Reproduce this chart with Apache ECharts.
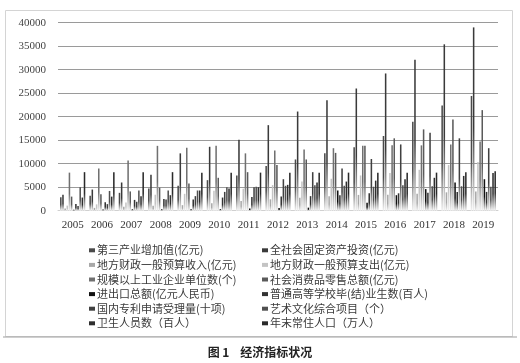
<!DOCTYPE html>
<html><head><meta charset="utf-8">
<script src="https://cdn.jsdelivr.net/npm/echarts@6/dist/echarts.min.js"></script>
<style>html,body{margin:0;padding:0;background:#fff}#c{width:520px;height:363px}</style>
</head><body><div id="c"></div>
<script>
const years = ['2005','2006','2007','2008','2009','2010','2011','2012','2013','2014','2015','2016','2017','2018','2019'];
const yTicks = [0,5000,10000,15000,20000,25000,30000,35000,40000];
const names = ['第三产业增加值(亿元)','全社会固定资产投资(亿元)','地方财政一般预算收入(亿元)','地方财政一般预算支出(亿元)','规模以上工业企业单位数(个)','社会消费品零售总额(亿元)','进出口总额(亿元人民币)','普通高等学校毕(结)业生数(百人)','国内专利申请受理量(十项)','艺术文化综合项目（个）','卫生人员数（百人）','年末常住人口（万人）'];
const s1 = [2840,3200,3800,4750,5300,6500,7500,9500,10900,12200,13500,15900,18900,22400,24400];
const s2 = [3400,4500,6000,7650,12200,13600,15100,18200,21100,23500,26000,29200,32100,35400,39000];
const s3 = [480,600,850,1040,1180,1560,2050,2420,2780,3060,3360,3390,3580,3910,4070];
const s4 = [1080,1350,1760,3400,3590,4260,4680,5450,6220,6800,7500,8010,8700,9710,10350];
const s5 = [8100,9000,10700,13800,13400,13800,12200,12800,13000,13300,13800,13900,13900,14100,14700];
const s6 = [3000,3500,4100,4900,5800,7000,8200,9700,10900,12300,13800,15400,17300,19400,21400];
const s7 = [200,250,300,300,300,330,480,590,650,4300,1700,3300,4600,6000,6700];
const s8 = [1400,1800,2300,2500,2400,2800,2900,3000,3100,3300,3700,3700,3800,4000,4000];
const s9 = [1000,1400,1900,2400,3100,4000,5000,6700,8200,9000,11000,14100,16600,15400,13300];
const s10 = [5000,4200,4300,4300,4300,5000,5100,5300,5400,5300,5100,5400,5200,5200,5100];
const s11 = [2800,3000,3100,3300,4300,4700,5000,5500,6000,6200,6400,6700,7000,7400,8000];
const s12 = [8200,8200,8200,8200,8100,8100,8100,8100,8100,8100,8100,8100,8100,8200,8400];
const allData = [s1,s2,s3,s4,s5,s6,s7,s8,s9,s10,s11,s12];
const colors = ['#4a4a4a','#3a3a3a','#a8a8a8','#c4c4c4','#707070','#5a5a5a','#111111','#333333','#404040','#505050','#2e2e2e','#2a2a2a'];

const chart = echarts.init(document.getElementById('c'), null, {renderer:'canvas'});
const series = allData.map((d,i)=>({
  name: names[i], type:'bar', data:d,
  barGap:'40%', barCategoryGap:'14%',
  itemStyle:{color:new echarts.graphic.LinearGradient(0,0,0,1,[{offset:0,color:colors[i]},{offset:0.55,color:colors[i]},{offset:1,color:'#f2f2f2'}])},
  animation:false
}));
const legendBase = {orient:'vertical', itemWidth:6, itemHeight:4, itemGap:0, icon:'rect',
  textStyle:{fontSize:11, color:'#3a3a3a', fontFamily:'"Noto Sans CJK SC"', lineHeight:14.6, padding:[0,0,0,-3]}, padding:0};
chart.setOption({
  backgroundColor:'#fff',
  animation:false,
  grid:{left:58, right:22, top:22.7, bottom:152.3},
  xAxis:{type:'category', data:years, axisTick:{show:false},
    axisLine:{lineStyle:{color:'#d0d0d0'}},
    axisLabel:{fontSize:11, color:'#333', fontFamily:'"Liberation Serif", serif', margin:9}},
  yAxis:{type:'value', min:yTicks[0], max:yTicks[yTicks.length-1], interval:5000,
    axisLine:{show:false}, axisTick:{show:false},
    axisLabel:{fontSize:11, color:'#444', fontFamily:'"Liberation Serif", serif', margin:12, formatter:v=>String(v)},
    splitLine:{lineStyle:{color:'#9a9a9a', width:1}}},
  legend:[
    Object.assign({left:89, top:243, data:[0,2,4,6,8,10].map(i=>({name:names[i], itemStyle:{color:colors[i]}}))}, legendBase),
    Object.assign({left:262, top:243, data:[1,3,5,7,9,11].map(i=>({name:names[i], itemStyle:{color:colors[i]}}))}, legendBase)
  ],
  graphic:[
    {type:'rect', shape:{x:5.5,y:10.5,width:507,height:326}, style:{fill:'none', stroke:'#d4d4d4', lineWidth:1}, silent:true},
    {type:'line', shape:{x1:3,y1:337,x2:517,y2:337}, style:{stroke:'#a0a0a0', lineWidth:1.2}, silent:true},
    {type:'text', x:260, y:352, style:{text:'图 1    经济指标状况', font:'bold 12px "Noto Sans CJK SC"', fill:'#222', textAlign:'center', textVerticalAlign:'middle'}, silent:true}
  ],
  series: series
});
</script></body></html>
